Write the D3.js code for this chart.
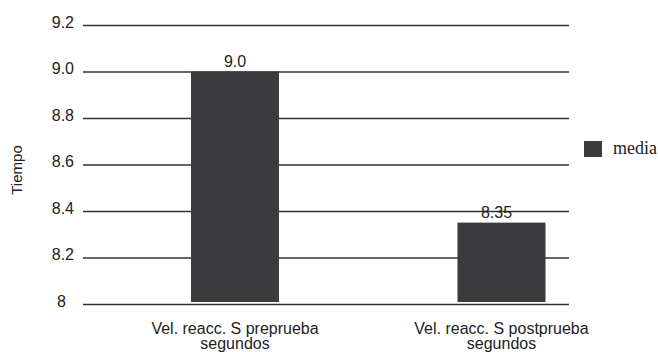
<!DOCTYPE html>
<html>
<head>
<meta charset="utf-8">
<script src="https://cdn.jsdelivr.net/npm/d3@7"></script>
<style>
  html, body { margin: 0; padding: 0; background: #fff; }
  svg { display: block; }
  text { font-family: "Liberation Sans", Arial, Helvetica, sans-serif; fill: #222; }
</style>
</head>
<body>
<svg id="chart" width="658" height="352"></svg>
<script>
// Mean reaction time, pre-test vs post-test
const categories = ["Vel. reacc. S preprueba segundos", "Vel. reacc. S postprueba segundos"];
const categoryLines = [["Vel. reacc. S preprueba", "segundos"], ["Vel. reacc. S postprueba", "segundos"]];
const mediaValues = [9.0, 8.35];
const valueLabels = ["9.0", "8.35"];
const yTicks = [8, 8.2, 8.4, 8.6, 8.8, 9.0, 9.2];
const yTickLabels = ["8", "8.2", "8.4", "8.6", "8.8", "9.0", "9.2"];
const seriesName = "media";
const yTitle = "Tiempo";

const svg = d3.select("#chart");
const barColor = "#3b3b3d";
const gridLeft = 83, gridRight = 569;

const y = d3.scaleLinear().domain([8, 9.2]).range([304, 25]);
const x = d3.scalePoint().domain(categories).range([235, 501.5]);
const barWidth = 88;

// Horizontal grid lines with tick labels
const yAxis = d3.axisLeft(y)
  .tickValues(yTicks)
  .tickSize(-(gridRight - gridLeft))
  .tickPadding(9)
  .tickFormat((d, i) => yTickLabels[i]);

const gAxis = svg.append("g")
  .attr("transform", `translate(${gridLeft},0)`)
  .call(yAxis);
gAxis.select(".domain").remove();
gAxis.selectAll(".tick line").attr("stroke", "#333").attr("stroke-width", 1.4);
gAxis.selectAll(".tick text")
  .attr("font-size", 16)
  .attr("dy", "0.15em")
  .attr("dx", (d, i) => i === 0 ? -8 : 0)
  .style("fill", "#222");

// Bars
svg.append("g").selectAll("rect")
  .data(mediaValues)
  .join("rect")
  .attr("x", (d, i) => x(categories[i]) - barWidth / 2)
  .attr("width", barWidth)
  .attr("y", d => y(d))
  .attr("height", d => y(8) - y(d) - 2)
  .attr("fill", barColor);

// Value labels above bars
svg.append("g").selectAll("text")
  .data(mediaValues)
  .join("text")
  .attr("x", (d, i) => x(categories[i]) - (i === 1 ? 5 : 0))
  .attr("y", d => y(d) - 4.5)
  .attr("text-anchor", "middle")
  .attr("font-size", 16)
  .text((d, i) => valueLabels[i]);

// Category labels (two lines each)
const catG = svg.append("g");
categoryLines.forEach((lines, i) => {
  const t = catG.append("text")
    .attr("x", x(categories[i]))
    .attr("y", 334)
    .attr("text-anchor", "middle")
    .attr("font-size", 16);
  lines.forEach((ln, j) => {
    t.append("tspan")
      .attr("x", x(categories[i]))
      .attr("dy", j === 0 ? 0 : 15)
      .text(ln);
  });
});

// Y-axis title
svg.append("text")
  .attr("transform", "translate(22,170) rotate(-90)")
  .attr("text-anchor", "middle")
  .attr("font-size", 15)
  .text(yTitle);

// Legend
const legend = svg.append("g").attr("transform", "translate(584,141)");
legend.append("rect").attr("width", 18).attr("height", 16).attr("fill", barColor);
legend.append("text")
  .attr("x", 29)
  .attr("y", 12.5)
  .attr("font-size", 18)
  .style("font-family", "'Liberation Serif', 'Times New Roman', serif")
  .text(seriesName);
</script>
</body>
</html>
